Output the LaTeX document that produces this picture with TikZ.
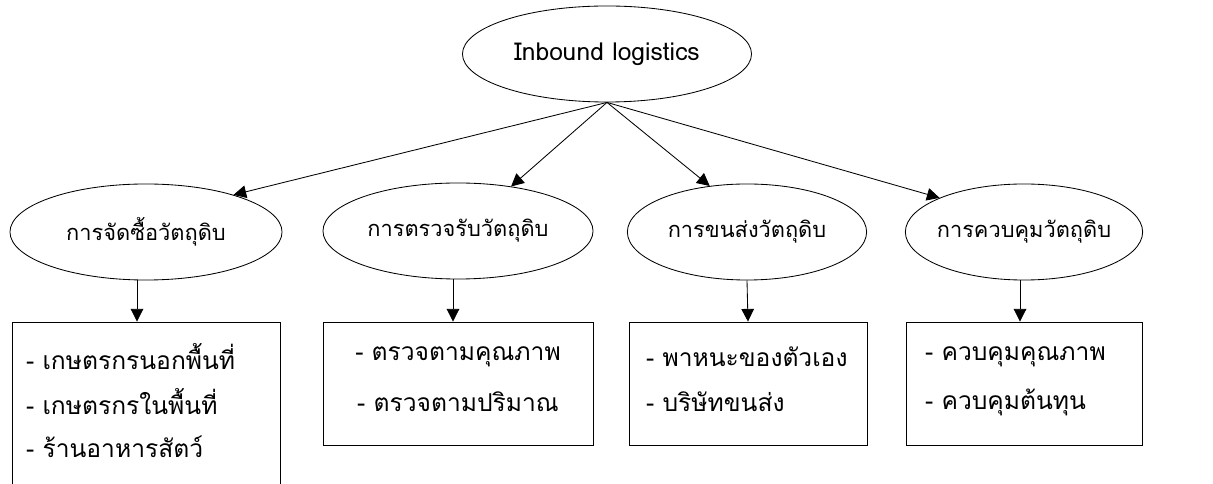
\documentclass[tikz,border=0pt]{standalone}
\usepackage{fontspec}
\newfontfamily\thaifont[Script=Thai]{Loma}
\usetikzlibrary{shapes.geometric,arrows.meta}

\begin{document}
\begin{tikzpicture}[x=0.025cm,y=-0.025cm,line width=0.6pt]
	\tikzstyle{every node}+=[font=\thaifont\fontsize{17.5}{17.5}\selectfont]
	\tikzstyle{topic}=[draw,ellipse,inner xsep=-3pt,inner ysep=0pt,minimum height=2.4cm,font=\thaifont\fontsize{15.5}{15.5}\selectfont]
	\tikzstyle{listbox}=[draw,rectangle,inner sep=0pt]
	\tikzstyle{link}=[-{Triangle[length=9pt,width=9pt]}]
	\useasboundingbox (0,0) rectangle (1213,484);
	\clip (0,0) rectangle (1213,484);
	% top
	\node [topic,minimum width=7.225cm,font=\thaifont\fontsize{17.5}{17.5}\selectfont] (inb) at (607,54) {Inbound logistics};
	% second row
	\node [topic,minimum width=6.8cm] (buy) at (146,232) {การจัดซื้อวัตถุดิบ};
	\node [topic,minimum width=6.75cm] (chk) at (458,231) {การตรวจรับวัตถุดิบ};
	\node [topic,minimum width=5.98cm] (trn) at (747,232) {การขนส่งวัตถุดิบ};
	\node [topic,minimum width=5.93cm] (ctl) at (1024,232) {การควบคุมวัตถุดิบ};
	% boxes
	\node [listbox,minimum width=6.7cm,minimum height=5.2cm] (buyl) at (146,426) {};
	\node [listbox,minimum width=6.75cm,minimum height=3.075cm] (chkl) at (458,383.5) {};
	\node [listbox,minimum width=5.95cm,minimum height=3.075cm] (trnl) at (748,383.5) {};
	\node [listbox,minimum width=5.9cm,minimum height=3.075cm] (ctll) at (1024,383.5) {};
	% list texts
	\node [anchor=west] (b1) at (21,357) {- เกษตรกรนอกพื้นที่};
	\node [anchor=west] (b2) at (21,402) {- เกษตรกรในพื้นที่};
	\node [anchor=west] (b3) at (21,447) {- ร้านอาหารสัตว์};
	\node (c1) at (458,357) {- ตรวจตามคุณภาพ};
	\node (c2) at (458,402) {- ตรวจตามปริมาณ};
	\node [anchor=west] (t1) at (641,357) {- พาหนะของตัวเอง};
	\node [anchor=west] (t2) at (641,402) {- บริษัทขนส่ง};
	\node [anchor=west] (k1) at (920,357) {- ควบคุมคุณภาพ};
	\node [anchor=west] (k2) at (920,402) {- ควบคุมต้นทุน};
	% arrows
	\draw [link] (inb.south) -- (buy.23);
	\draw [link] (inb.south) -- (chk.40);
	\draw [link] (inb.south) -- (trn.129);
	\draw [link] (inb.south) -- (ctl.158);
	\draw [link] (buy.south -| 137,0) -- (buyl.north -| 137,0);
	\draw [link] (chk.south -| 453,0) -- (chkl.north -| 453,0);
	\draw [link] (trn.south) -- (trnl.north);
	\draw [link] (ctl.south -| 1020,0) -- (ctll.north -| 1020,0);
\end{tikzpicture}
\end{document}
